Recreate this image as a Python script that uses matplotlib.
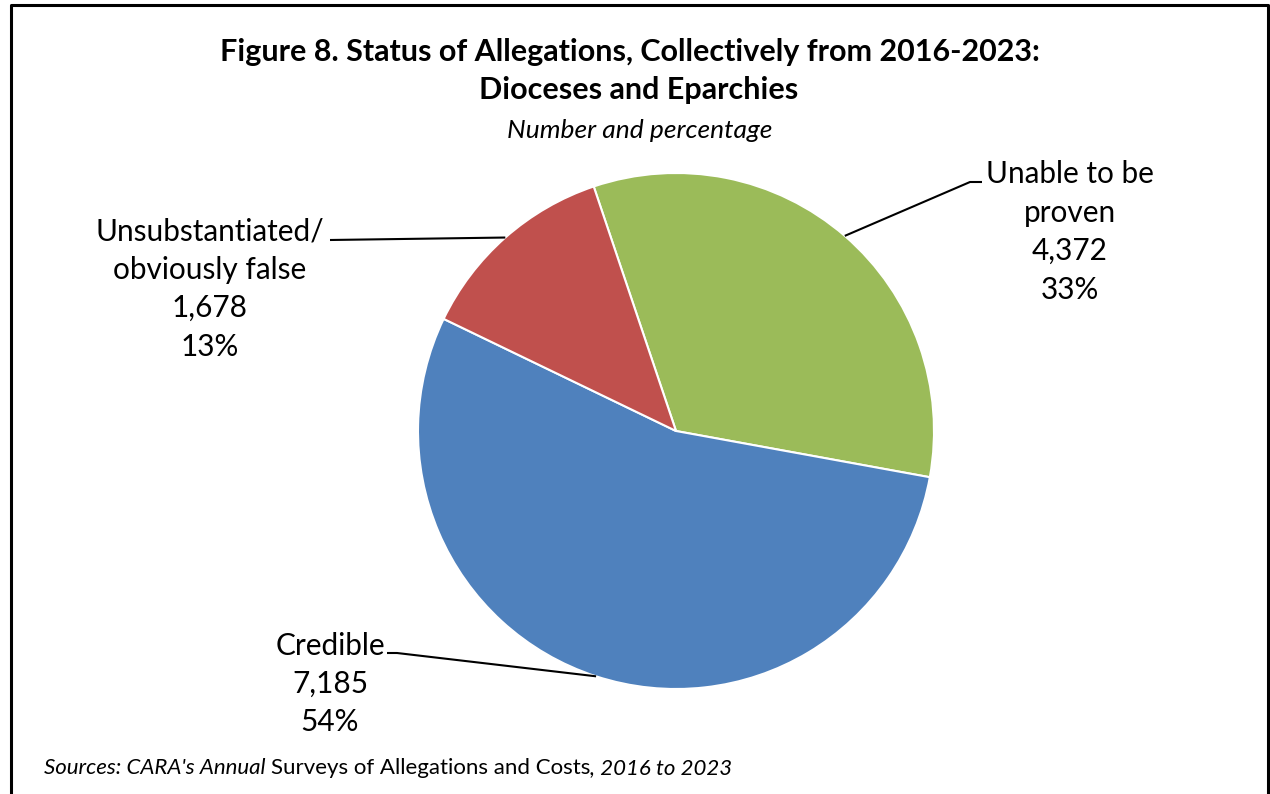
import matplotlib.pyplot as plt
import numpy as np
from matplotlib.lines import Line2D

# Allegation status totals, 2016-2023
categories = ["Unable to be\nproven", "Credible", "Unsubstantiated/\nobviously false"]
counts = [4372, 7185, 1678]
colors = ["#9BBB59", "#4F81BD", "#C0504D"]

W, H = 1270, 794
FONT = "Lato"

fig = plt.figure(figsize=(W / 100, H / 100), dpi=100)
ax = fig.add_axes([0, 0, 1, 1])

cx, cy, r = 676, H - 431, 258
total = sum(counts)
wedges, _ = ax.pie(counts, colors=colors, startangle=108.6, counterclock=False,
                   center=(cx, cy), radius=r, frame=True,
                   wedgeprops=dict(edgecolor="white", linewidth=1.5))
ax.set_xlim(0, W)
ax.set_ylim(0, H)
ax.axis("off")

# label block centres and leader-line elbows (pixels from top-left)
label_pos = [(1070, 232), (330, 684), (210, 289)]
elbows = [[(982, 182), (970, 182)], [(387, 653), (397, 653)], [(330, 240), (330, 240)]]

for w, cat, n, (lx, ly), elb in zip(wedges, categories, counts, label_pos, elbows):
    mid = np.deg2rad((w.theta1 + w.theta2) / 2)
    ex, ey = cx + r * np.cos(mid), cy + r * np.sin(mid)
    xs = [p[0] for p in elb] + [ex]
    ys = [H - p[1] for p in elb] + [ey]
    ax.add_line(Line2D(xs, ys, color="black", lw=1.5, solid_capstyle="butt"))
    pct = round(100 * n / total)
    ax.text(lx, H - ly, f"{cat}\n{n:,}\n{pct}%", ha="center", va="center",
            fontsize=21.4, family=FONT, linespacing=1.45)

fig.text(630 / W, 1 - 52 / H, "Figure 8. Status of Allegations, Collectively from 2016-2023:",
         ha="center", va="center", fontsize=22, fontweight="bold", family=FONT)
fig.text(639 / W, 1 - 90 / H, "Dioceses and Eparchies",
         ha="center", va="center", fontsize=22, fontweight="bold", family=FONT)
fig.text(640 / W, 1 - 130 / H, "Number and percentage",
         ha="center", va="center", fontsize=19, style="italic", family=FONT)

# source line with mixed italic / upright runs
t = fig.text(44 / W, 1 - 774 / H, "Sources: CARA's Annual ", ha="left", va="baseline",
             fontsize=16, style="italic", family=FONT)
t2 = ax.annotate("Surveys of Allegations and Costs", xy=(1, 0), xycoords=t,
                 ha="left", va="bottom", fontsize=16, family=FONT)
ax.annotate(", 2016 to 2023", xy=(1, 0), xycoords=t2,
            ha="left", va="bottom", fontsize=16, style="italic", family=FONT)

# frame around the figure (open at the bottom)
fig.add_artist(Line2D([10.5 / W, 10.5 / W, 1268 / W, 1268 / W],
                      [0, 1 - 5 / H, 1 - 5 / H, 0],
                      transform=fig.transFigure, color="black", lw=2.2))

fig.savefig("out.png", dpi=100)
